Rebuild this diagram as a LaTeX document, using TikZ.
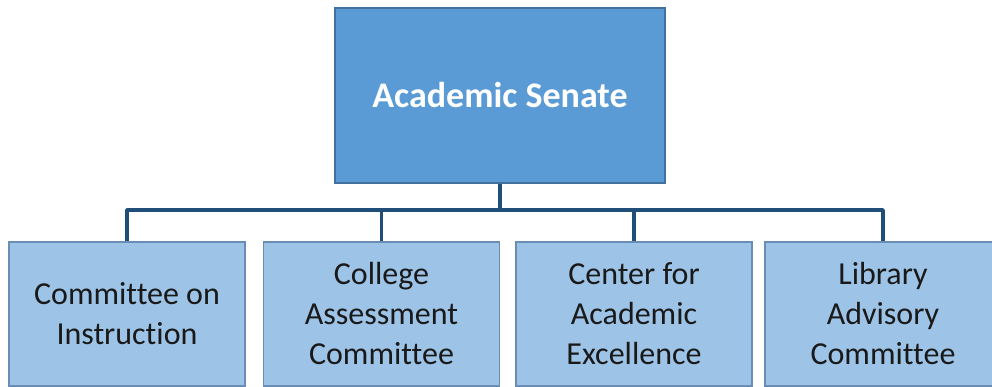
\documentclass[tikz,border=0pt]{standalone}
\usepackage{fontspec}
\setmainfont{Carlito}[Ligatures = {CommonOff, ContextualOff, RareOff}, Contextuals = AlternateOff]
\definecolor{senatefill}{HTML}{5B9BD5}
\definecolor{senatedraw}{HTML}{41719C}
\definecolor{cttfill}{HTML}{9DC3E6}
\definecolor{cttdraw}{HTML}{6A8DB5}
\definecolor{linkcol}{HTML}{1F4E79}
\tikzset{
	senatebox/.style = {draw = senatedraw, fill = senatefill, line width = 1.5pt, minimum width = 330pt, minimum height = 175pt, font = \fontsize{36}{44}\selectfont\bfseries, text = white},
	cttbox/.style = {draw = cttdraw, fill = cttfill, line width = 1.5pt, minimum width = 236pt, minimum height = 144pt, align = center, font = \fontsize{32}{40}\selectfont, text = black!90},
	link/.style = {draw = linkcol, line width = 3.5pt, line join = round}
}
\begin{document}
\begin{tikzpicture}[x = 1pt, y = -1pt]
	\useasboundingbox (0, 0) rectangle (992, 387);
	\node[senatebox, inner sep = 0pt] (senate) at (500, 95.5) {Academic Senate};
	\foreach \i/\name/\txt in {127/c1/{Committee on\\Instruction}, 381.5/c2/{College\\Assessment\\Committee}, 634/c3/{Center for\\Academic\\Excellence}, 883/c4/{Library\\Advisory\\Committee}}{
		\node[cttbox, inner sep = 0pt] (\name) at (\i, 314) {\txt};}
	\coordinate (bus) at (500, 210);
	\draw[link] (senate.south) -- (bus);
	\foreach \name in {c1, c2, c3, c4}{
		\draw[link] (bus) -| (\name.north);}
\end{tikzpicture}
\end{document}
